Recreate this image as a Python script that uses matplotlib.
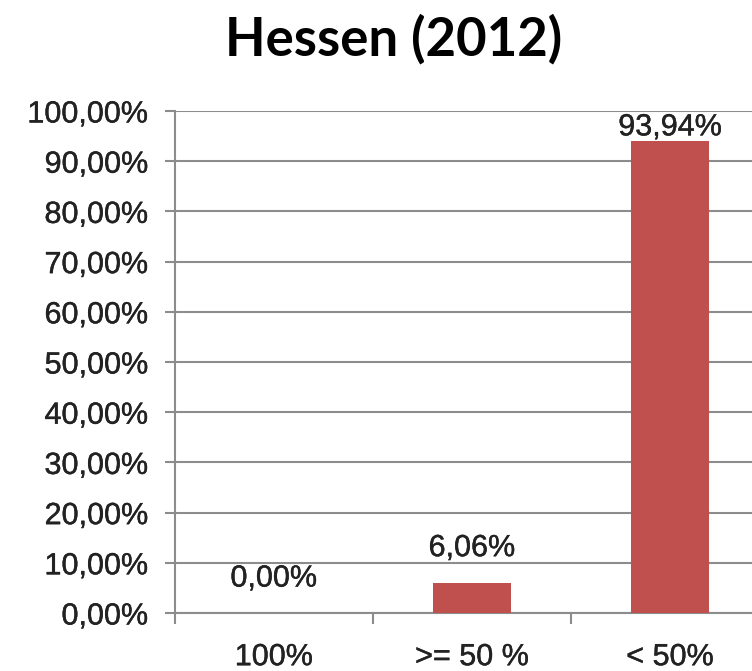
import numpy as np
import matplotlib.pyplot as plt
import matplotlib.patheffects as pe

categories = ['100%', '>= 50 %', '< 50%']
values = [0.00, 6.06, 93.94]
yticks = [0, 10, 20, 30, 40, 50, 60, 70, 80, 90, 100]


def pct(v):
    return f"{v:.2f}".replace('.', ',') + '%'


# slightly heavier text, like the blurred original
heavy = [pe.withStroke(linewidth=0.3, foreground='#222222')]

fig = plt.figure(figsize=(7.52, 6.71), dpi=100)
# axes runs past the right edge, as in the cropped original
ax = fig.add_axes([0.2327, 0.0864, 0.7899, 0.7482])

x = np.arange(len(categories))
ax.bar(x, values, width=0.39, color='#C0504D', zorder=3)

# labels sit above the bar, but are kept inside the plot area
for xi, v in zip(x, values):
    if v > 85:
        t = ax.annotate(pct(v), (xi, 100), xytext=(0, -1), textcoords='offset points',
                        ha='center', va='top', fontsize=22, family='Liberation Sans', color='#222222')
    else:
        t = ax.annotate(pct(v), (xi, v), xytext=(0, 14), textcoords='offset points',
                        ha='center', va='bottom', fontsize=22, family='Liberation Sans', color='#222222')
    t.set_path_effects(heavy)

ax.set_xlim(-0.5, 2.5)
ax.set_ylim(0, 100)
ax.set_yticks(yticks)
ax.set_yticklabels([pct(t) for t in yticks], fontsize=22, family='Liberation Sans', color='#222222')
ax.set_xticks(x)
ax.set_xticklabels(categories, fontsize=22, family='Liberation Sans', color='#222222')
ax.set_xticks(np.arange(-0.5, 3.0, 1.0), minor=True)
for lab in ax.get_xticklabels() + ax.get_yticklabels():
    lab.set_path_effects(heavy)

ax.tick_params(axis='x', which='major', length=0, pad=21)
ax.tick_params(axis='x', which='minor', length=8, width=1.5, color='#8c8c8c', direction='out')
ax.tick_params(axis='y', length=7, width=1.5, color='#8c8c8c', direction='out', pad=12)

ax.grid(axis='y', color='#8c8c8c', linewidth=1.5, zorder=0)
for s in ['top', 'right']:
    ax.spines[s].set_visible(False)
for s in ['left', 'bottom']:
    ax.spines[s].set_color('#8c8c8c')
    ax.spines[s].set_linewidth(1.5)

fig.text(0.524, 0.918, 'Hessen (2012)', ha='center', va='baseline', fontsize=38,
         fontweight='bold', family='Lato', color='black')

plt.savefig('out.png', dpi=100)
